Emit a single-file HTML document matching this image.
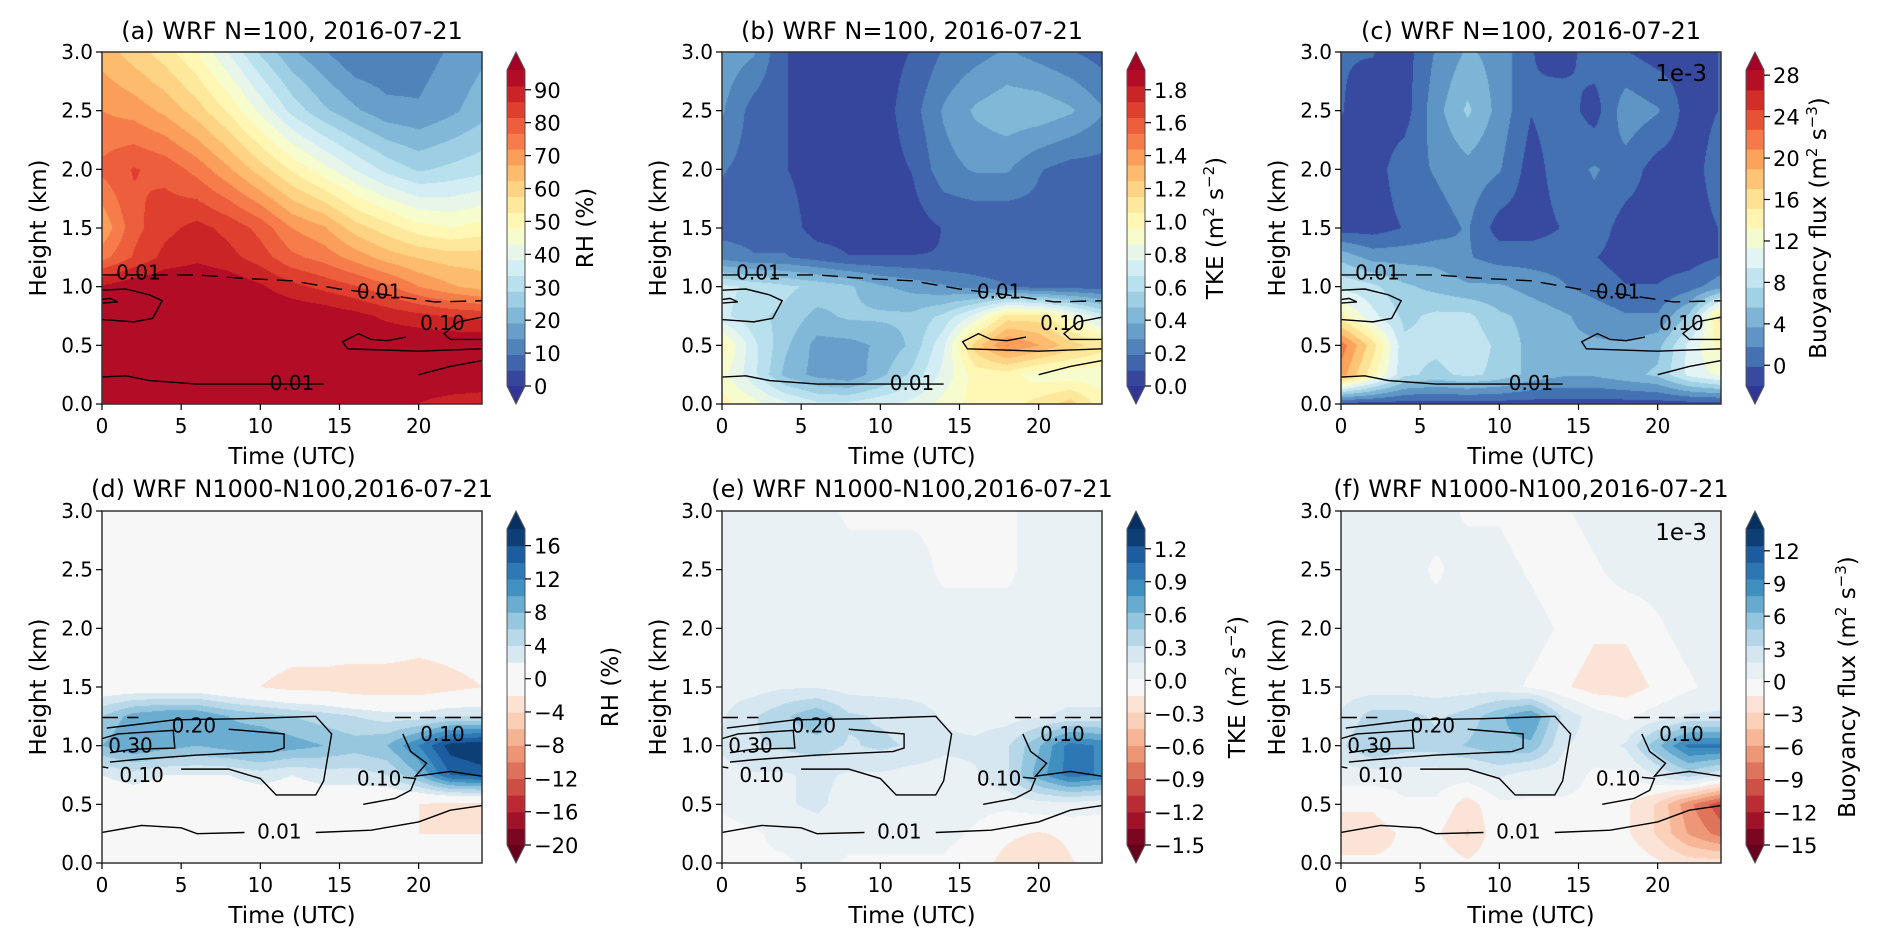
<!DOCTYPE html>
<html><head><meta charset="utf-8">
<style>
body{margin:0;background:#fff;width:1892px;height:951px;overflow:hidden;position:relative;font-family:"DejaVu Sans","Liberation Sans",sans-serif;}
canvas{position:absolute;}
svg{position:absolute;left:0;top:0;font-family:"DejaVu Sans","Liberation Sans",sans-serif;}
</style></head>
<body>
<svg id="svg" width="1892" height="951"></svg>
<script>
// ---------- data ----------
const times = [0,2,4,6,8,10,12,14,16,18,20,22,24];
const heights = [0,0.25,0.5,0.75,1.0,1.25,1.5,2.0,2.5,3.0];
const xTicks = [0,5,10,15,20];
const yTicks = [0.0,0.5,1.0,1.5,2.0,2.5,3.0];
// rows listed from z=0 upwards
const rhField = [
 [96,96,96,96,96,96,96,96,95,93,91,89,88],
 [96,96,96,96,96,96,96,96,96,96,96,96,96],
 [96,96,96,96,96,96,96,96,96,96,96,96,96],
 [96,96,96,96,96,96,96,95,93,90,88,86,85],
 [92,95,96,96,95,92,88,85,82,78,72,68,65],
 [75,82,88,90,88,84,78,75,70,65,62,60,60],
 [68,80,85,88,85,80,72,68,60,55,50,48,50],
 [78,82,80,75,68,60,52,45,38,32,28,30,32],
 [72,70,66,60,52,42,32,25,20,16,15,18,22],
 [65,60,55,48,38,28,20,15,10,10,12,15,18]];
const tkeField = [
 [1.0,0.9,0.8,0.7,0.7,0.75,0.8,0.9,1.0,1.0,1.1,1.2,1.0],
 [0.9,0.7,0.45,0.35,0.3,0.45,0.6,0.8,1.0,1.0,0.9,0.9,0.9],
 [1.0,0.7,0.5,0.35,0.35,0.4,0.5,0.75,1.2,1.45,1.35,1.2,1.1],
 [0.7,0.6,0.55,0.45,0.5,0.5,0.5,0.6,0.8,1.1,1.1,0.9,0.7],
 [0.7,0.65,0.6,0.55,0.5,0.4,0.35,0.3,0.25,0.2,0.15,0.15,0.15],
 [0.25,0.2,0.2,0.15,0.1,0.1,0.1,0.1,0.1,0.1,0.1,0.15,0.15],
 [0.15,0.15,0.15,0.05,0.05,0.05,0.05,0.1,0.1,0.1,0.15,0.1,0.1],
 [0.2,0.15,0.1,0.05,0.05,0.05,0.1,0.25,0.3,0.3,0.2,0.15,0.15],
 [0.3,0.15,0.1,0.05,0.05,0.05,0.15,0.3,0.4,0.45,0.45,0.4,0.3],
 [0.35,0.3,0.1,0.05,0.05,0.05,0.1,0.2,0.25,0.3,0.25,0.2,0.15]];
const bfField = [
 [-1,-1,-1,-1,-1,-1,-1,-1,-1,-1,-1,-1,-1],
 [20,14,8,7,8,7,5,4,4,5,6,10,12],
 [22,16,8,8,9,7,5,4,4,4,5,10,14],
 [14,10,7,8,8,6,5,4,3,2,2,6,16],
 [9,8,6,5,4,4,3,2,1,0,0,1,3],
 [5,3,3,3,2,1,1,1,0,-1,-1,-1,0],
 [-1,-1,0,1,2,-1,-1,0,1,-1,-1,-1,0],
 [-1,-1,1,2,3,2,-1,1,2,1,-1,-1,1],
 [0,-1,-1,3,6,3,0,1,-1,3,2,-1,0],
 [0,0,-1,2,4,3,0,-1,1,0,-1,-1,0]];
const rhDiff = [
 [0,0,0,0,0,0,0,0,0,0,0,0,0],
 [0,-1,-2,-2,-2,0,0,0,-1,-1,-2,-2,-2],
 [0,0,0,0,0,0,0,0,0,-1,-2,-3,-3],
 [2,3,2,2,2,3,2,3,3,4,8,14,15],
 [8,10,9,8,9,10,9,8,7,8,12,17,18],
 [6,9,10,10,8,7,6,5,4,3,3,4,4],
 [0,0,0,0,-1,-2,-3,-3,-4,-4,-4,-3,-2],
 [0,0,0,0,0,0,0,0,1,1,0,0,0],
 [0,0,0,0,0,0,0,1,1,0,1,0,0],
 [1,0,0,0,0,0,0,0,0,0,0,0,0]];
const tkeDiff = [
 [-0.05,0,0,0.05,0,0,0,0,-0.05,-0.2,-0.3,-0.15,-0.05],
 [-0.05,0,0.05,0.1,0.05,0.05,0.05,0.05,0,-0.1,-0.15,-0.1,-0.05],
 [0.05,0.1,0.15,0.2,0.1,0.1,0.05,0.05,0.05,0.05,0.1,0.1,0.05],
 [0.1,0.15,0.15,0.2,0.15,0.15,0.1,0.1,0.15,0.3,0.7,1.0,0.9],
 [0.2,0.3,0.35,0.4,0.3,0.35,0.3,0.2,0.2,0.3,0.6,1.0,0.9],
 [0.15,0.3,0.45,0.6,0.35,0.3,0.25,0.15,0.1,0.1,0.15,0.2,0.2],
 [0.1,0.1,0.15,0.15,0.1,0.1,0.1,0.1,0.05,0.05,0.1,0.1,0.1],
 [0.05,0.05,0.05,0.05,0.05,0.05,0.05,0.05,0.05,0.05,0.05,0.05,0.05],
 [0.05,0.05,0.05,0.05,0.05,0.05,0.05,0,0,0,0.05,0.05,0.05],
 [0.05,0.05,0.05,0.05,0,0,0,0,0,0,0.05,0.05,0.05]];
const bfDiff = [
 [-1,-1,-1,0,-1,0,0,0,0,0,-1,-2,-2],
 [-2,-2,-1,-1,-3,0,0,0,0,-1,-3,-6,-8],
 [-1,-1,0,0,-2,0,0,0,0,-1,-3,-7,-10],
 [1,1,1,1,1,2,1,1,0,0,2,4,2],
 [3,5,4,4,5,6,6,2,1,2,6,10,10],
 [2,4,4,3,4,6,8,3,1,0,1,2,2],
 [1,1,1,1,1,1,0,-1,-2,-2,-1,0,1],
 [1,1,1,1,1,1,1,0,-1,-1,0,1,1],
 [1,1,1,0,1,1,0,-1,0,1,1,1,1],
 [1,1,1,1,0,0,-1,0,1,1,1,1,1]];
// contour polylines: [time, height] pairs
const topDashed = [[0,1.1],[3,1.1],[6,1.1],[9,1.07],[12,1.05],[15,0.98],[18,0.93],[21,0.87],[24,0.88]];
const topBottom = [[0,0.23],[1.5,0.24],[3,0.2],[6,0.17],[10,0.17],[14,0.17],[17,0.18],[20,0.25],[22,0.32],[24,0.37]];
const topLoopL = [[0,0.97],[1.5,0.98],[3,0.93],[3.8,0.88],[3.2,0.73],[2,0.7],[1,0.71],[0,0.72]];
const topLoopS = [[0,0.86],[1,0.87],[0.5,0.9],[0,0.89]];
const topRight1 = [[19.2,0.57],[18,0.54],[17,0.55],[16.2,0.6],[15.2,0.53],[15.5,0.47],[20,0.45],[24,0.47]];
const topRight2 = [[24,0.55],[22,0.55],[21.6,0.6],[22.5,0.7],[24,0.74]];
const topLabels = [["0.01",2.3,1.12],["0.01",17.5,0.96],["0.10",21.5,0.69],["0.01",12,0.18]];
const botDashL = [[0,1.24],[2.3,1.24]];
const botDashR = [[18.5,1.24],[24,1.24]];
const bot30 = [[0,1.06],[1,1.1],[4.5,1.13],[4.6,0.98],[2,0.97],[0.5,0.94]];
const bot20 = [[8,1.14],[11.5,1.1],[11.5,0.98],[10.8,0.95],[6,0.92],[2,0.88],[0.5,0.86]];
const bot10 = [[5,0.8],[8,0.8],[10,0.72],[11,0.58],[13.5,0.58],[14,0.7],[14.5,1.1],[13.5,1.25],[9,1.23],[4.6,1.22],[0.3,1.15]];
const bot10b = [[0,0.82],[0.4,0.81]];
const bot10R = [[19,1.1],[19.5,0.95],[20.5,0.85],[19.8,0.74],[22,0.78],[24,0.74]];
const bot10R2 = [[16.5,0.5],[18.5,0.55],[19.5,0.62],[19.8,0.72],[19,0.73]];
const bot01 = [[0,0.26],[2.5,0.32],[5,0.3],[6,0.25],[9,0.26]];
const bot01b = [[13.5,0.26],[17,0.28],[20,0.35],[22,0.45],[24,0.49]];
const botLabels = [["0.30",1.8,1.0],["0.20",5.8,1.17],["0.10",2.5,0.75],["0.10",17.5,0.72],["0.10",21.5,1.1],["0.01",11.2,0.27]];
// colorbar definitions
const cbarA = {min:0,max:96,n:20,ticks:[0,10,20,30,40,50,60,70,80,90]};
const cbarB = {min:0,max:1.92,n:20,ticks:[0,0.2,0.4,0.6,0.8,1.0,1.2,1.4,1.6,1.8],dec:1};
const cbarC = {min:-2,max:28.5,n:16,ticks:[0,4,8,12,16,20,24,28]};
const cbarD = {min:-20,max:18,n:19,ticks:[-20,-16,-12,-8,-4,0,4,8,12,16],div:true};
const cbarE = {min:-1.5,max:1.38,n:19,ticks:[-1.5,-1.2,-0.9,-0.6,-0.3,0,0.3,0.6,0.9,1.2],dec:1,div:true};
const cbarF = {min:-15,max:14,n:19,ticks:[-15,-12,-9,-6,-3,0,3,6,9,12],div:true};

// ---------- rendering ----------
const SEQ=[[49,54,149],[69,117,180],[116,173,209],[171,217,233],[224,243,248],[255,255,191],[254,224,144],[253,174,97],[244,109,67],[215,48,39],[165,0,38]];
const DIV=[[103,0,31],[178,24,43],[214,96,77],[244,165,130],[253,219,199],[247,247,247],[209,229,240],[146,197,222],[67,147,195],[33,102,172],[5,48,97]];
function cmap(st,f){f=Math.max(0,Math.min(1,f));const p=f*(st.length-1),i=Math.min(st.length-2,Math.floor(p)),r=p-i;
 return st[i].map((c,k)=>Math.round(c+(st[i+1][k]-c)*r));}
function colorFor(cb,v){
 const step=(cb.max-cb.min)/cb.n;let b=Math.floor((v-cb.min)/step);b=Math.max(0,Math.min(cb.n-1,b));
 const mid=cb.min+(b+0.5)*step;
 if(cb.div){let f=mid>=0?0.5+0.5*mid/cb.max:0.5-0.5*mid/cb.min;if(Math.abs(mid)<step*0.6)f=0.5;return cmap(DIV,f);}
 return cmap(SEQ,(mid-cb.min)/(cb.max-cb.min));}
function sample(F,t,z){
 let i=Math.min(times.length-2,Math.floor(t/2));let rt=(t-times[i])/(times[i+1]-times[i]);
 let j=0;while(j<heights.length-2&&z>heights[j+1])j++;let rz=(z-heights[j])/(heights[j+1]-heights[j]);
 rt=Math.max(0,Math.min(1,rt));rz=Math.max(0,Math.min(1,rz));
 const a=F[j][i]*(1-rt)+F[j][i+1]*rt,b=F[j+1][i]*(1-rt)+F[j+1][i+1]*rt;return a*(1-rz)+b*rz;}
const svg=document.getElementById('svg');const NS='http://www.w3.org/2000/svg';
function el(tag,attrs,parent){const e=document.createElementNS(NS,tag);for(const k in attrs)e.setAttribute(k,attrs[k]);(parent||svg).appendChild(e);return e;}
function txt(s,x,y,size,anchor,parent,rot){const t=el('text',{x:x,y:y,'font-size':size,'text-anchor':anchor||'middle',fill:'#000'},parent);
 if(rot)t.setAttribute('transform','rotate(-90 '+x+' '+y+')');t.innerHTML=s;return t;}
const W=380,H=352,cols=[102,722,1341],rows=[52,511];
const SUP='baseline-shift="super" font-size="15"';
const panels=[
 {c:0,r:0,F:rhField,cb:cbarA,title:'(a) WRF N=100, 2016-07-21',clab:'RH (%)',clx:491,top:true},
 {c:1,r:0,F:tkeField,cb:cbarB,title:'(b) WRF N=100, 2016-07-21',clab:'TKE (m<tspan '+SUP+'>2</tspan> s<tspan '+SUP+'>−2</tspan>)',clx:501,top:true},
 {c:2,r:0,F:bfField,cb:cbarC,title:'(c) WRF N=100, 2016-07-21',clab:'Buoyancy flux (m<tspan '+SUP+'>2</tspan> s<tspan '+SUP+'>−3</tspan>)',clx:485,top:true,e3:true},
 {c:0,r:1,F:rhDiff,cb:cbarD,title:'(d) WRF N1000-N100,2016-07-21',clab:'RH (%)',clx:516,top:false},
 {c:1,r:1,F:tkeDiff,cb:cbarE,title:'(e) WRF N1000-N100,2016-07-21',clab:'TKE (m<tspan '+SUP+'>2</tspan> s<tspan '+SUP+'>−2</tspan>)',clx:523,top:false},
 {c:2,r:1,F:bfDiff,cb:cbarF,title:'(f) WRF N1000-N100,2016-07-21',clab:'Buoyancy flux (m<tspan '+SUP+'>2</tspan> s<tspan '+SUP+'>−3</tspan>)',clx:514,top:false,e3:true}];
const letters='abcdef';
panels.forEach((p,idx)=>{
 const X=cols[p.c],Y=rows[p.r];
 const xs=t=>X+t/24*W, ys=z=>Y+H-z/3*H;
 const cv=document.createElement('canvas');cv.width=W;cv.height=H;cv.style.left=X+'px';cv.style.top=Y+'px';
 
 
 document.body.insertBefore(cv,svg);
 const ctx=cv.getContext('2d'),img=ctx.createImageData(W,H);
 for(let py=0;py<H;py++){const z=3*(H-py-0.5)/H;for(let px=0;px<W;px++){const t=24*(px+0.5)/W;
  const c=colorFor(p.cb,sample(p.F,t,z));const o=(py*W+px)*4;img.data[o]=c[0];img.data[o+1]=c[1];img.data[o+2]=c[2];img.data[o+3]=255;}}
 ctx.putImageData(img,0,0);
 const g=el('g',{});
 
 
 const cg=el('g',{fill:'none',stroke:'#000','stroke-width':1.4},g);
 
 
 const line=(pts,dash)=>{const e=el('polyline',{points:pts.map(q=>xs(q[0])+','+ys(q[1])).join(' ')},cg);if(dash)e.setAttribute('stroke-dasharray','16,9');
  
  };
 let labs;
 if(p.top){line(topDashed,true);line(topBottom.slice(0,6));line(topBottom.slice(7));line(topLoopL);line(topLoopS);line(topRight1);line(topRight2);labs=topLabels;}
 else{line(botDashL,true);line(botDashR,true);line(bot30);line(bot20);line(bot10);line(bot10b);line(bot10R);line(bot10R2);line(bot01);line(bot01b);labs=botLabels;}
 labs.forEach(l=>{const t=txt(l[0],xs(l[1]),ys(l[2])+7,20,'middle',g);
  
  });
 const fr=el('rect',{x:X,y:Y,width:W,height:H,fill:'none',stroke:'#333','stroke-width':1.5},g);
 
 
 xTicks.forEach(v=>{el('line',{x1:xs(v),x2:xs(v),y1:Y+H,y2:Y+H+6,stroke:'#000','stroke-width':1.2},g);
  const t=txt(v,xs(v),Y+H+29,20,'middle',g);
  
  });
 yTicks.forEach(v=>{el('line',{x1:X-6,x2:X,y1:ys(v),y2:ys(v),stroke:'#000','stroke-width':1.2},g);
  const t=txt(v.toFixed(1),X-9,ys(v)+7,20,'end',g);
  
  });
 const xl=txt('Time (UTC)',X+W/2,Y+H+60,23,'middle',g);
 
 
 const yl=txt('Height (km)',X-56,Y+H/2,23,'middle',g,true);
 
 
 const ti=txt(p.title,X+W/2,Y-(p.top?13:14),24,'middle',g);
 
 
 if(p.e3){const t=txt('1e-3',X+W-14,Y+29,23,'end',g);
  
  }
 const cb=p.cb,CX=X+405,CW=18,T0=Y+18,T1=Y+H-18;
 const cs=v=>T1-(v-cb.min)/(cb.max-cb.min)*(T1-T0);
 const bg=el('g',{},g);
 
 
 const step=(cb.max-cb.min)/cb.n;
 for(let b=0;b<cb.n;b++){const v=cb.min+(b+0.5)*step,c=colorFor(cb,v);
  el('rect',{x:CX,y:cs(cb.min+(b+1)*step),width:CW,height:(T1-T0)/cb.n+0.6,fill:'rgb('+c+')'},bg);}
 const ct=cb.div?cmap(DIV,1):cmap(SEQ,1), cbm=cb.div?cmap(DIV,0):cmap(SEQ,0);
 el('polygon',{points:`${CX},${T0} ${CX+CW/2},${Y} ${CX+CW},${T0}`,fill:'rgb('+ct+')'},bg);
 el('polygon',{points:`${CX},${T1} ${CX+CW/2},${Y+H} ${CX+CW},${T1}`,fill:'rgb('+cbm+')'},bg);
 el('polygon',{points:`${CX},${T0} ${CX+CW/2},${Y} ${CX+CW},${T0} ${CX+CW},${T1} ${CX+CW/2},${Y+H} ${CX},${T1}`,fill:'none',stroke:'#555','stroke-width':1},bg);
 cb.ticks.forEach(v=>{el('line',{x1:CX+CW,x2:CX+CW+6,y1:cs(v),y2:cs(v),stroke:'#000','stroke-width':1.2},bg);
  const s=(cb.dec?v.toFixed(cb.dec):String(v)).replace('-','−');
  const t=txt(s,CX+CW+9,cs(v)+8,21,'start',bg);
  
  });
 const cl=txt(p.clab,X+p.clx,Y+H/2,23,'middle',g,true);
 
 
});
</script>
</body></html>
